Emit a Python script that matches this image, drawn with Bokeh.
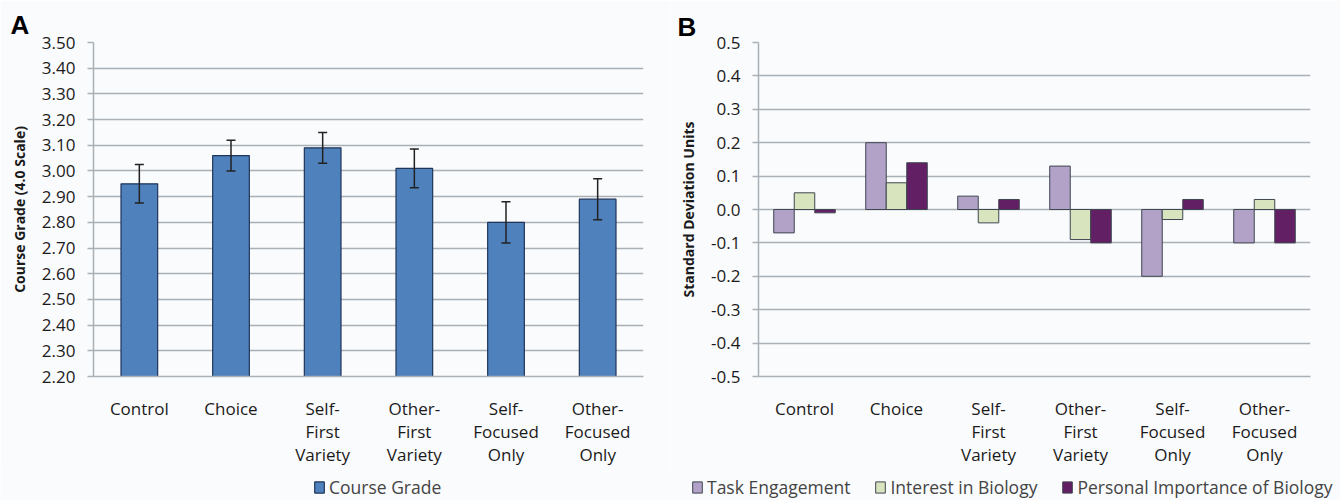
from bokeh.plotting import figure
from bokeh.models import (FactorRange, Range1d, FixedTicker, PrintfTickFormatter, Whisker,
                          ColumnDataSource, Legend, LegendItem, TeeHead, Title)
from bokeh.transform import dodge
from bokeh.layouts import row, column
from bokeh.embed import file_html
from bokeh.resources import INLINE

# ---------------- data ----------------
categories = ["Control", "Choice", "Self-\nFirst\nVariety", "Other-\nFirst\nVariety",
              "Self-\nFocused\nOnly", "Other-\nFocused\nOnly"]

course_grade = [2.95, 3.06, 3.09, 3.01, 2.80, 2.89]
grade_upper = [3.025, 3.12, 3.15, 3.085, 2.88, 2.97]
grade_lower = [2.875, 3.00, 3.03, 2.935, 2.72, 2.81]

task_engagement = [-0.07, 0.20, 0.04, 0.13, -0.20, -0.10]
interest_biology = [0.05, 0.08, -0.04, -0.09, -0.03, 0.03]
personal_importance = [-0.01, 0.14, 0.03, -0.10, 0.03, -0.10]

ticks_a = [2.2, 2.3, 2.4, 2.5, 2.6, 2.7, 2.8, 2.9, 3.0, 3.1, 3.2, 3.3, 3.4, 3.5]
ticks_b = [-0.5, -0.4, -0.3, -0.2, -0.1, 0.0, 0.1, 0.2, 0.3, 0.4, 0.5]

series_b = ["Task Engagement", "Interest in Biology", "Personal Importance of Biology"]

# ---------------- style ----------------
BG = "#FAFBFD"
GRID = "#A9B1B6"
FONT = "Open Sans"
TICK_SIZE = "17px"
BLUE, BLUE_EDGE = "#4F81BD", "#1F3559"
COLORS_B = ["#B3A2C7", "#D7E4BD", "#631F63"]
EDGE_B = "#3E4650"
bw = 0.223


def style(p, ticks, fmt, label, letter, offset, standoff):
    p.background_fill_color = BG
    p.border_fill_color = BG
    p.outline_line_color = None
    p.xgrid.grid_line_color = None
    p.ygrid.grid_line_color = GRID
    p.ygrid.grid_line_width = 1.5
    p.yaxis.ticker = FixedTicker(ticks=ticks)
    p.yaxis.formatter = PrintfTickFormatter(format=fmt)
    for ax in (p.xaxis[0], p.yaxis[0]):
        ax.axis_line_color = GRID
        ax.axis_line_width = 1.5
        ax.major_label_text_font = FONT
        ax.major_label_text_font_size = TICK_SIZE
        ax.major_label_text_color = "#1a1a1a"
        ax.minor_tick_line_color = None
    p.yaxis.major_tick_line_color = GRID
    p.yaxis.major_tick_line_width = 1.5
    p.yaxis.major_tick_out = 6
    p.yaxis.major_tick_in = 0
    p.yaxis.major_label_standoff = 12
    p.yaxis.axis_label = label
    p.yaxis.axis_label_text_font = FONT
    p.yaxis.axis_label_text_font_style = "bold"
    p.yaxis.axis_label_text_font_size = "14px"
    p.yaxis.axis_label_text_color = "#1a1a1a"
    p.yaxis.axis_label_standoff = 10
    p.xaxis.major_tick_line_color = None
    p.xaxis.major_label_standoff = 14
    p.xaxis.major_label_text_line_height = 1.0
    p.add_layout(Title(text=letter, align="left", offset=offset, standoff=standoff,
                       text_line_height=0.8,
                       text_font="Liberation Sans", text_font_style="bold",
                       text_font_size="26px", text_color="#000000"), "above")


def legend_fig(y_range):
    lf = figure(width=670, height=29, output_backend="svg", toolbar_location=None,
                x_range=FactorRange(*categories), y_range=y_range,
                x_axis_location=None, y_axis_location=None, min_border=0)
    lf.background_fill_color = BG
    lf.border_fill_color = BG
    lf.outline_line_color = None
    lf.grid.grid_line_color = None
    return lf


def add_legend(lf, items, x):
    lf.add_layout(Legend(items=items, orientation="horizontal", location=(x, 1),
                         label_text_font=FONT, label_text_font_size="17.5px",
                         glyph_width=12, glyph_height=14, label_standoff=4, spacing=24,
                         background_fill_alpha=0, border_line_color=None,
                         padding=0, margin=0))


# ---------------- panel A ----------------
src_a = ColumnDataSource(dict(cat=categories, grade=course_grade,
                              upper=grade_upper, lower=grade_lower))

pa = figure(x_range=FactorRange(*categories, range_padding=0), y_range=Range1d(2.2, 3.5),
            width=670, height=471, output_backend="svg", toolbar_location=None,
            min_border_left=93, min_border_right=27, min_border_top=42, min_border_bottom=95)
style(pa, ticks_a, "%.2f", "Course Grade (4.0 Scale)", "A", -83, 5)

bar_kw_a = dict(x="cat", top="grade", bottom=2.2, width=0.40, source=src_a,
                fill_color=BLUE, line_color=BLUE_EDGE, line_width=1.2)
pa.vbar(**bar_kw_a)
pa.add_layout(Whisker(source=src_a, base="cat", upper="upper", lower="lower", level="overlay",
                      line_color="#222222", line_width=1.5,
                      upper_head=TeeHead(size=9, line_color="#222222", line_width=1.5),
                      lower_head=TeeHead(size=9, line_color="#222222", line_width=1.5)))

# ---------------- panel B ----------------
src_b = ColumnDataSource(dict(cat=categories, te=task_engagement,
                              ib=interest_biology, pi=personal_importance))

pb = figure(x_range=FactorRange(*categories, range_padding=0), y_range=Range1d(-0.5, 0.5),
            width=670, height=471, output_backend="svg", toolbar_location=None,
            min_border_left=88, min_border_right=30, min_border_top=39, min_border_bottom=94)
style(pb, ticks_b, "%.1f", "Standard Deviation Units", "B", -81, 2)

for off, col, color in zip([-bw, 0, bw], ["te", "ib", "pi"], COLORS_B):
    pb.vbar(x=dodge("cat", off, range=pb.x_range), top=col, bottom=0, width=bw,
            source=src_b, fill_color=color, line_color=EDGE_B, line_width=1)

# ---------------- legends (swatches use the same data, scrolled out of view) ----------------
la = legend_fig(Range1d(100, 101))
ra = la.vbar(**bar_kw_a)
add_legend(la, [LegendItem(label="Course Grade", renderers=[ra])], 313)

lb = legend_fig(Range1d(100, 101))
items_b = []
for col, color, name in zip(["te", "ib", "pi"], COLORS_B, series_b):
    r = lb.vbar(x="cat", top=col, bottom=0, width=bw, source=src_b,
                fill_color=color, line_color=EDGE_B, line_width=1)
    items_b.append(LegendItem(label=name, renderers=[r]))
add_legend(lb, items_b, 21)

layout = column(row(pa, pb), row(la, lb))
open("out.html", "w").write(file_html(layout, INLINE))
